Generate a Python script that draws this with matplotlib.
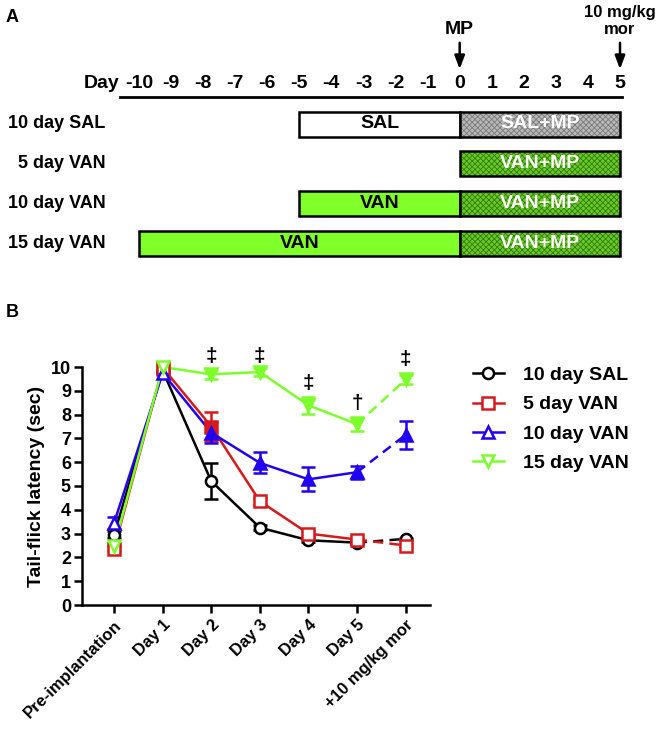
import matplotlib
matplotlib.use("Agg")
import matplotlib.pyplot as plt
from matplotlib.lines import Line2D
from matplotlib.patches import Rectangle

plt.rcParams["font.family"] = ["Liberation Sans", "DejaVu Sans"]
plt.rcParams["font.weight"] = "bold"
plt.rcParams["axes.labelweight"] = "bold"
plt.rcParams["hatch.linewidth"] = 0.6

# ---- panel A: treatment schedule ----
days = list(range(-10, 6))
groups = ["10 day SAL", "5 day VAN", "10 day VAN", "15 day VAN"]
pre_start = [-5, None, -5, -10]
pre_label = ["SAL", "", "VAN", "VAN"]
post_label = ["SAL+MP", "VAN+MP", "VAN+MP", "VAN+MP"]
pre_color = ["white", None, "#80ff2a", "#80ff2a"]
post_color = ["#b8b8b8", "#66cc20", "#66cc20", "#66cc20"]
post_hatch = ["#7a7a7a", "#357a12", "#357a12", "#357a12"]

# ---- panel B: tail-flick latency ----
timepoints = ["Pre-implantation", "Day 1", "Day 2", "Day 3", "Day 4", "Day 5",
              "+10 mg/kg mor"]
sal_mean = [2.95, 9.85, 5.2, 3.25, 2.72, 2.62, 2.78]
sal_sem = [0.15, 0.1, 0.75, 0.1, 0.08, 0.06, 0.05]
van5_mean = [2.36, 9.97, 7.5, 4.36, 3.0, 2.75, 2.5]
van5_sem = [0.1, 0.1, 0.62, 0.15, 0.12, 0.08, 0.05]
van10_mean = [3.45, 9.75, 7.24, 5.97, 5.28, 5.58, 7.15]
van10_sem = [0.25, 0.1, 0.45, 0.44, 0.5, 0.28, 0.6]
van15_mean = [2.47, 10.0, 9.69, 9.79, 8.39, 7.6, 9.48]
van15_sem = [0.15, 0.05, 0.2, 0.15, 0.35, 0.3, 0.18]
series = [
    ("10 day SAL", sal_mean, sal_sem, "black", "o", []),
    ("5 day VAN", van5_mean, van5_sem, "#d7191c", "s", [2]),
    ("10 day VAN", van10_mean, van10_sem, "#2200f0", "^", [2, 3, 4, 5, 6]),
    ("15 day VAN", van15_mean, van15_sem, "#7cff2a", "v", [2, 3, 4, 5, 6]),
]
sig_pos = [2, 3, 4, 5, 6]
sig_y = [10.45, 10.45, 9.3, 8.45, 10.3]
sig_sym = ["‡", "‡", "‡", "†", "‡"]

fig = plt.figure(figsize=(6.57, 7.33), dpi=100)

# panel A drawn in day units (x) and pixel rows (y)
axA = fig.add_axes([0, 1 - 300 / 733, 1, 300 / 733])
px_per_day = (620 - 139) / 15
axA.set_xlim(-10 - 139 / px_per_day, -10 + (657 - 139) / px_per_day)
axA.set_ylim(300, 0)
axA.axis("off")

fig.text(0.008, 0.988, "A", fontsize=13, va="top", ha="left")
axA.text(-10.6, 83, "Day", fontsize=14, ha="right", va="center")
for d in days:
    axA.text(d, 83, str(d), fontsize=14, ha="center", va="center")
axA.plot([-10.6, 5.05], [97, 97], color="black", lw=2)

axA.annotate("", xy=(0, 72), xytext=(0, 40),
             arrowprops=dict(arrowstyle="-|>,head_width=0.3,head_length=0.8",
                             color="black", lw=1.8))
axA.text(0, 30, "MP", fontsize=14, ha="center", va="center")
axA.annotate("", xy=(5, 72), xytext=(5, 40),
             arrowprops=dict(arrowstyle="-|>,head_width=0.3,head_length=0.8",
                             color="black", lw=1.8))
axA.text(5, 13, "10 mg/kg", fontsize=12, ha="center", va="center")
axA.text(5, 30, "mor", fontsize=12, ha="center", va="center")

row_y = [124, 163, 203, 243]
bar_h = 25
for i, g in enumerate(groups):
    y = row_y[i]
    axA.text(-11.05, y, g, fontsize=13, ha="right", va="center")
    if pre_start[i] is not None:
        axA.add_patch(Rectangle((pre_start[i], y - bar_h / 2), -pre_start[i], bar_h,
                                facecolor=pre_color[i], edgecolor="black", lw=1.8))
        axA.text(pre_start[i] / 2, y, pre_label[i], fontsize=14, ha="center",
                 va="center")
    axA.add_patch(Rectangle((0, y - bar_h / 2), 5, bar_h, facecolor=post_color[i],
                            edgecolor=post_hatch[i], hatch="xxxxxx", lw=0))
    axA.add_patch(Rectangle((0, y - bar_h / 2), 5, bar_h, facecolor="none",
                            edgecolor="black", lw=1.8))
    axA.text(2.5, y, post_label[i], fontsize=14, ha="center", va="center",
             color="white")

# panel B
ax = fig.add_axes([82 / 657, 128 / 733, 348 / 657, 238 / 733])
x = list(range(len(timepoints)))
for name, mean, sem, color, marker, filled in series:
    ax.errorbar(x, mean, yerr=sem, fmt="none", ecolor=color, elinewidth=1.8,
                capsize=5, capthick=1.8, clip_on=False, zorder=2)
    ax.plot(x[:6], mean[:6], color=color, lw=1.8, clip_on=False, zorder=3)
    ax.plot(x[5:], mean[5:], color=color, lw=1.8, ls=(0, (4, 2.5)), clip_on=False,
            zorder=3)
    for j in x:
        ax.plot(x[j], mean[j], marker=marker, ms=8, mew=1.8, mec=color,
                mfc=color if j in filled else "white", clip_on=False, zorder=4)

for p, yv, s in zip(sig_pos, sig_y, sig_sym):
    ax.text(p, yv, s, fontsize=15, ha="center", va="center")

ax.set_xlim(-0.66, 6.5)
ax.set_ylim(0, 10)
ax.set_yticks(range(0, 11))
ax.set_xticks(x)
ax.set_xticklabels(timepoints, rotation=45, ha="right", rotation_mode="anchor",
                   fontweight="bold", fontsize=12)
ax.set_yticklabels([str(v) for v in range(0, 11)], fontweight="bold", fontsize=13)
ax.tick_params(width=1.8, length=6)
ax.tick_params(axis="x", pad=3)
ax.tick_params(axis="y", pad=2)
for side in ["top", "right"]:
    ax.spines[side].set_visible(False)
for side in ["left", "bottom"]:
    ax.spines[side].set_linewidth(1.8)
ax.set_ylabel("Tail-flick latency (sec)", fontsize=14, labelpad=4)
fig.text(0.008, 1 - 313 / 733, "B", fontsize=13, va="center", ha="left")

handles = [Line2D([], [], color=c, marker=m, ms=8, mew=1.8, mfc="white", lw=1.8)
           for _, _, _, c, m, _ in series]
fig.legend(handles, [s[0] for s in series], loc="upper left",
           bbox_to_anchor=(455 / 657, 1 - 349 / 733), frameon=False,
           fontsize=14, handlelength=1.6, labelspacing=0.6, handletextpad=1.0)

fig.savefig("out.png", dpi=100)
